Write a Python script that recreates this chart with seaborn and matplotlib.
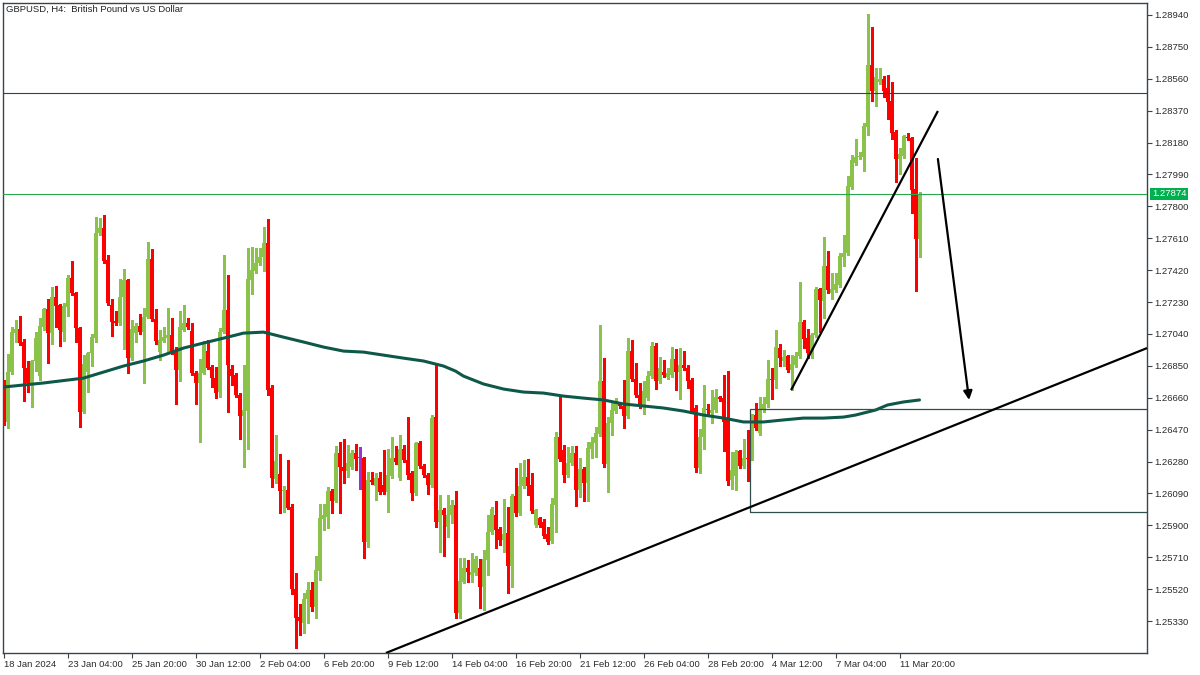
import numpy as np
import pandas as pd
import seaborn as sns
import matplotlib
matplotlib.use("Agg")
import matplotlib.pyplot as plt
from matplotlib.patches import Rectangle
from matplotlib.transforms import blended_transform_factory

# GBPUSD H4 candles (bar 0 = 18 Jan 2024 12:00)
opens = [1.26748, 1.26516, 1.26813, 1.27045, 1.27069, 1.26992, 1.26837, 1.26748, 1.26879, 1.26789,
         1.27081, 1.27188, 1.27045, 1.27260, 1.27212, 1.27051, 1.27200, 1.27373, 1.27284, 1.27075,
         1.26575, 1.26813, 1.26926, 1.27015, 1.27641, 1.27671, 1.27480, 1.27212, 1.27117, 1.27105,
         1.27260, 1.27361, 1.26896, 1.27045, 1.27087, 1.27051, 1.27141, 1.27486, 1.27129, 1.26932,
         1.26998, 1.27015, 1.27033, 1.26932, 1.26825, 1.27063, 1.27105, 1.27057, 1.26807, 1.26748,
         1.26807, 1.26938, 1.26843, 1.26777, 1.26694, 1.27051, 1.27183, 1.26831, 1.26795, 1.26676,
         1.26551, 1.26581, 1.27361, 1.27415, 1.27462, 1.27498, 1.27582, 1.26718, 1.26176, 1.26206,
         1.26105, 1.26111, 1.26009, 1.25521, 1.25354, 1.25318, 1.25461, 1.25515, 1.25413, 1.25628,
         1.25937, 1.25949, 1.26105, 1.26045, 1.26331, 1.26247, 1.26224, 1.26247, 1.26331, 1.26301,
         1.26301, 1.25801, 1.26170, 1.26134, 1.26182, 1.26140, 1.26099, 1.26194, 1.26301, 1.26182,
         1.26354, 1.26289, 1.26212, 1.26093, 1.26390, 1.26253, 1.26200, 1.26140, 1.26545, 1.25920,
         1.25991, 1.25890, 1.25961, 1.26021, 1.25378, 1.25563, 1.25646, 1.25604, 1.25616, 1.25646,
         1.25533, 1.25694, 1.25860, 1.25961, 1.25878, 1.25813, 1.25854, 1.25658, 1.26075, 1.25973,
         1.26134, 1.26188, 1.26140, 1.25902, 1.25943, 1.25920, 1.25848, 1.25807, 1.26021, 1.26426,
         1.26349, 1.26200, 1.26271, 1.26331, 1.26111, 1.26235, 1.26152, 1.26354, 1.26390, 1.26444,
         1.26760, 1.26265, 1.26510, 1.26581, 1.26623, 1.26611, 1.26551, 1.26938, 1.26771, 1.26676,
         1.26611, 1.26658, 1.26789, 1.26968, 1.26760, 1.26813, 1.26783, 1.26795, 1.26890, 1.26813,
         1.26855, 1.26837, 1.26766, 1.26599, 1.26241, 1.26426, 1.26593, 1.26569, 1.26587, 1.26664,
         1.26658, 1.26539, 1.26170, 1.26194, 1.26343, 1.26253, 1.26301, 1.26301, 1.26557, 1.26450,
         1.26587, 1.26623, 1.26771, 1.26766, 1.26956, 1.26879, 1.26908, 1.26825, 1.26855, 1.26908,
         1.27111, 1.27015, 1.26926, 1.27033, 1.27308, 1.27236, 1.27444, 1.27284, 1.27302, 1.27331,
         1.27498, 1.27522, 1.27915, 1.28058, 1.28094, 1.28094, 1.28272, 1.28642, 1.28487, 1.28541,
         1.28559, 1.28505, 1.28427, 1.28243, 1.28082, 1.28100, 1.28213, 1.28207, 1.27903, 1.27606]

highs = [1.26766, 1.26920, 1.27081, 1.27123, 1.27147, 1.27009, 1.26879, 1.26885, 1.27051, 1.27135,
         1.27194, 1.27248, 1.27319, 1.27325, 1.27218, 1.27224, 1.27391, 1.27474, 1.27290, 1.27081,
         1.26914, 1.26932, 1.27039, 1.27736, 1.27730, 1.27748, 1.27510, 1.27248, 1.27177, 1.27367,
         1.27426, 1.27367, 1.27123, 1.27105, 1.27159, 1.27194, 1.27588, 1.27546, 1.27188, 1.27063,
         1.27081, 1.27194, 1.27135, 1.26962, 1.27177, 1.27212, 1.27135, 1.27105, 1.26819, 1.26890,
         1.26998, 1.27004, 1.26855, 1.26843, 1.27075, 1.27510, 1.27391, 1.26855, 1.26807, 1.26688,
         1.26855, 1.27552, 1.27558, 1.27552, 1.27552, 1.27677, 1.27724, 1.26736, 1.26438, 1.26325,
         1.26134, 1.26289, 1.26027, 1.25616, 1.25431, 1.25497, 1.25563, 1.25563, 1.25717, 1.26027,
         1.26027, 1.26128, 1.26116, 1.26372, 1.26396, 1.26414, 1.26378, 1.26349, 1.26384, 1.26366,
         1.26307, 1.26218, 1.26218, 1.26212, 1.26218, 1.26349, 1.26354, 1.26426, 1.26372, 1.26438,
         1.26378, 1.26545, 1.26224, 1.26396, 1.26402, 1.26265, 1.26212, 1.26557, 1.26855, 1.26081,
         1.26003, 1.26081, 1.26051, 1.26105, 1.25705, 1.25705, 1.25694, 1.25735, 1.25717, 1.25700,
         1.25753, 1.25961, 1.26009, 1.26045, 1.25890, 1.26057, 1.26009, 1.26087, 1.26241, 1.26271,
         1.26289, 1.26295, 1.26212, 1.25997, 1.25949, 1.25937, 1.25890, 1.26063, 1.26456, 1.26664,
         1.26378, 1.26366, 1.26372, 1.26372, 1.26301, 1.26247, 1.26396, 1.26426, 1.26486, 1.27093,
         1.26896, 1.26545, 1.26629, 1.26658, 1.26635, 1.26766, 1.27015, 1.27004, 1.26867, 1.26748,
         1.26760, 1.26819, 1.26992, 1.26986, 1.26903, 1.26885, 1.26837, 1.26962, 1.26950, 1.26956,
         1.26938, 1.26855, 1.26777, 1.26617, 1.26474, 1.26736, 1.26623, 1.26706, 1.26712, 1.26670,
         1.26795, 1.26819, 1.26337, 1.26349, 1.26349, 1.26414, 1.26468, 1.26563, 1.26629, 1.26664,
         1.26664, 1.26885, 1.26837, 1.27063, 1.26980, 1.26944, 1.26914, 1.26914, 1.26932, 1.27349,
         1.27123, 1.27069, 1.27045, 1.27319, 1.27314, 1.27617, 1.27534, 1.27403, 1.27403, 1.27522,
         1.27629, 1.27981, 1.28106, 1.28201, 1.28124, 1.28296, 1.28945, 1.28868, 1.28624, 1.28624,
         1.28576, 1.28582, 1.28541, 1.28255, 1.28148, 1.28225, 1.28237, 1.28213, 1.28088, 1.27885]

lows = [1.26498, 1.26480, 1.26801, 1.26992, 1.26974, 1.26641, 1.26694, 1.26605, 1.26819, 1.26766,
        1.27063, 1.26867, 1.26980, 1.27081, 1.26968, 1.26998, 1.27147, 1.27272, 1.26992, 1.26486,
        1.26569, 1.26694, 1.26849, 1.26992, 1.27629, 1.27462, 1.27212, 1.27027, 1.27093, 1.27093,
        1.26950, 1.26807, 1.26885, 1.26992, 1.27039, 1.26748, 1.27135, 1.27117, 1.26980, 1.26885,
        1.26992, 1.26926, 1.26920, 1.26623, 1.26760, 1.27057, 1.27069, 1.26795, 1.26623, 1.26396,
        1.26801, 1.26831, 1.26724, 1.26658, 1.26664, 1.27045, 1.26575, 1.26736, 1.26664, 1.26414,
        1.26247, 1.26354, 1.27278, 1.27403, 1.27450, 1.27415, 1.26676, 1.26128, 1.26152, 1.25973,
        1.25979, 1.25997, 1.25491, 1.25169, 1.25247, 1.25259, 1.25318, 1.25390, 1.25348, 1.25575,
        1.25872, 1.25884, 1.25973, 1.26039, 1.25973, 1.26152, 1.26188, 1.26235, 1.26230, 1.26116,
        1.25705, 1.25771, 1.26146, 1.26051, 1.26087, 1.26087, 1.25979, 1.26182, 1.26265, 1.26170,
        1.26277, 1.26176, 1.26051, 1.26081, 1.26241, 1.26188, 1.26087, 1.26128, 1.25890, 1.25741,
        1.25717, 1.25830, 1.25914, 1.25348, 1.25348, 1.25557, 1.25563, 1.25563, 1.25604, 1.25408,
        1.25396, 1.25604, 1.25848, 1.25765, 1.25783, 1.25741, 1.25497, 1.25533, 1.25955, 1.25961,
        1.26122, 1.26081, 1.25973, 1.25890, 1.25890, 1.25825, 1.25789, 1.25795, 1.25860, 1.26283,
        1.26158, 1.26188, 1.26259, 1.26015, 1.26069, 1.26045, 1.26045, 1.26301, 1.26307, 1.26432,
        1.26247, 1.26099, 1.26438, 1.26569, 1.26599, 1.26480, 1.26539, 1.26760, 1.26664, 1.26599,
        1.26563, 1.26647, 1.26777, 1.26712, 1.26748, 1.26783, 1.26771, 1.26783, 1.26706, 1.26652,
        1.26825, 1.26718, 1.26569, 1.26218, 1.26212, 1.26354, 1.26557, 1.26510, 1.26575, 1.26641,
        1.26343, 1.26140, 1.26116, 1.26111, 1.26241, 1.26241, 1.26164, 1.26289, 1.26468, 1.26438,
        1.26575, 1.26605, 1.26652, 1.26718, 1.26849, 1.26849, 1.26813, 1.26706, 1.26843, 1.26896,
        1.26956, 1.26896, 1.26896, 1.27021, 1.27051, 1.27135, 1.27284, 1.27248, 1.27290, 1.27319,
        1.27444, 1.27510, 1.27903, 1.28046, 1.28082, 1.28011, 1.28225, 1.28427, 1.28397, 1.28529,
        1.28451, 1.28320, 1.28201, 1.27945, 1.27993, 1.28088, 1.28195, 1.27760, 1.27296, 1.27498]

closes = [1.26516, 1.26813, 1.27051, 1.27069, 1.26986, 1.26837, 1.26748, 1.26879, 1.27015, 1.27087,
          1.27188, 1.27045, 1.27260, 1.27206, 1.27063, 1.27206, 1.27373, 1.27284, 1.27075, 1.26575,
          1.26861, 1.26926, 1.27021, 1.27641, 1.27671, 1.27474, 1.27224, 1.27111, 1.27105, 1.27260,
          1.27361, 1.26896, 1.27069, 1.27087, 1.27051, 1.27141, 1.27486, 1.27129, 1.26998, 1.27004,
          1.27021, 1.27033, 1.26932, 1.26825, 1.27081, 1.27105, 1.27081, 1.26807, 1.26748, 1.26807,
          1.26980, 1.26837, 1.26777, 1.26688, 1.27051, 1.27183, 1.26855, 1.26789, 1.26676, 1.26551,
          1.26587, 1.27367, 1.27421, 1.27462, 1.27498, 1.27582, 1.26706, 1.26182, 1.26283, 1.26105,
          1.26111, 1.26003, 1.25521, 1.25348, 1.25330, 1.25461, 1.25515, 1.25413, 1.25634, 1.25943,
          1.25961, 1.26105, 1.26045, 1.26331, 1.26247, 1.26224, 1.26271, 1.26331, 1.26295, 1.26301,
          1.25801, 1.26170, 1.26158, 1.26182, 1.26099, 1.26099, 1.26200, 1.26301, 1.26277, 1.26354,
          1.26289, 1.26200, 1.26093, 1.26390, 1.26253, 1.26200, 1.26140, 1.26539, 1.25920, 1.25991,
          1.25961, 1.25961, 1.26021, 1.25378, 1.25569, 1.25646, 1.25622, 1.25622, 1.25700, 1.25533,
          1.25700, 1.25860, 1.25997, 1.25872, 1.25813, 1.25848, 1.25658, 1.26075, 1.25973, 1.26134,
          1.26188, 1.26134, 1.25985, 1.25991, 1.25902, 1.25836, 1.25801, 1.26027, 1.26426, 1.26295,
          1.26200, 1.26271, 1.26331, 1.26111, 1.26235, 1.26152, 1.26360, 1.26396, 1.26450, 1.26760,
          1.26265, 1.26510, 1.26587, 1.26629, 1.26611, 1.26551, 1.26938, 1.26771, 1.26676, 1.26611,
          1.26700, 1.26789, 1.26968, 1.26760, 1.26837, 1.26795, 1.26807, 1.26890, 1.26813, 1.26855,
          1.26837, 1.26760, 1.26575, 1.26241, 1.26426, 1.26599, 1.26587, 1.26587, 1.26664, 1.26652,
          1.26516, 1.26164, 1.26230, 1.26337, 1.26253, 1.26301, 1.26295, 1.26557, 1.26480, 1.26587,
          1.26623, 1.26771, 1.26766, 1.26962, 1.26896, 1.26903, 1.26825, 1.26861, 1.26908, 1.27111,
          1.27009, 1.26926, 1.27033, 1.27307, 1.27242, 1.27444, 1.27302, 1.27308, 1.27337, 1.27504,
          1.27522, 1.27921, 1.28076, 1.28094, 1.28100, 1.28278, 1.28642, 1.28487, 1.28570, 1.28558,
          1.28487, 1.28421, 1.28237, 1.28082, 1.28112, 1.28219, 1.28207, 1.27897, 1.27606, 1.27874]

# moving average read at a few bars
ma_bars = [0, 10, 20, 25, 30, 35, 40, 45, 50, 55, 60, 65, 70, 75, 80, 85, 90, 95, 100, 105,
           110, 113, 115, 120, 125, 130, 135, 140, 145, 150, 155, 160, 165, 170, 175, 180, 185,
           190, 195, 200, 205, 210, 213, 218, 221, 225, 229]
ma_values = [1.26724, 1.26748, 1.26777, 1.26813, 1.26849, 1.26879, 1.26914, 1.26956, 1.26986,
             1.27015, 1.27045, 1.27051, 1.27021, 1.26992, 1.26962, 1.26938, 1.26932, 1.26914,
             1.26896, 1.26879, 1.26849, 1.26819, 1.26789, 1.26742, 1.26712, 1.26694, 1.26688,
             1.26670, 1.26658, 1.26647, 1.26623, 1.26611, 1.26599, 1.26581, 1.26557, 1.26539,
             1.26516, 1.26516, 1.26528, 1.26539, 1.26539, 1.26545, 1.26557, 1.26587, 1.26617,
             1.26635, 1.26647]

# drawn objects (bar, price)
resistance_level = 1.28475
bid_price = 1.27874
zone_top, zone_bottom, zone_start = 1.26593, 1.25979, 186.6
trend_long = [(95.6, 1.25140), (285.9, 1.26956)]
trend_short = [(196.9, 1.26706), (233.6, 1.28368)]
arrow_from, arrow_to = (233.6, 1.28082), (241.4, 1.26647)

x_tick_bars = [0, 16, 32, 48, 64, 80, 96, 112, 128, 144, 160, 176, 192, 208, 224]
x_tick_labels = ["18 Jan 2024", "23 Jan 04:00", "25 Jan 20:00", "30 Jan 12:00", "2 Feb 04:00",
                 "6 Feb 20:00", "9 Feb 12:00", "14 Feb 04:00", "16 Feb 20:00", "21 Feb 12:00",
                 "26 Feb 04:00", "28 Feb 20:00", "4 Mar 12:00", "7 Mar 04:00", "11 Mar 20:00"]
y_ticks = [1.25330, 1.25520, 1.25710, 1.25900, 1.26090, 1.26280, 1.26470, 1.26660, 1.26850, 1.27040,
           1.27230, 1.27420, 1.27610, 1.27800, 1.27990, 1.28180, 1.28370, 1.28560, 1.28750, 1.28940]

sns.set_theme(style="white")
plt.rcParams["font.family"] = ["Liberation Sans", "DejaVu Sans"]

df = pd.DataFrame({"open": opens, "high": highs, "low": lows, "close": closes})
df["bar"] = np.arange(len(df))

up_col, down_col, doji_col = "#8bc34a", "#ff0000", "#9b30d9"
colors = np.where(df.close > df.open, up_col, np.where(df.close < df.open, down_col, doji_col))

fig = plt.figure(figsize=(12, 6.75), dpi=100)
ax = fig.add_axes([3 / 1200, 22 / 675, 1144 / 1200, 650 / 675])

# candles (drawn crisp, like the terminal)
ax.vlines(df.bar, df.low, df.high, colors=colors, lw=0.8, zorder=3, antialiased=False)
body = (df.close - df.open).abs().clip(lower=0.00006)
ax.bar(df.bar, body, bottom=df[["open", "close"]].min(axis=1), width=0.7,
       color=colors, lw=0, zorder=4, antialiased=False)

# moving average
sns.lineplot(x=ma_bars, y=ma_values, ax=ax, color="#0e5849", lw=2.2, zorder=5)

# levels and zone sit on top of the candles
ax.axhline(resistance_level, color="#34424a", lw=0.8, zorder=6)
ax.axhline(bid_price, color="#2aa84f", lw=0.8, zorder=6)
ax.add_patch(Rectangle((zone_start, zone_bottom), 200, zone_top - zone_bottom,
                       fill=False, ec="#2f4f4f", lw=0.9, zorder=6))

# trend lines and arrow
for (x0, y0), (x1, y1) in [trend_long, trend_short]:
    ax.plot([x0, x1], [y0, y1], color="black", lw=1.6, zorder=7, solid_capstyle="butt")
ax.annotate("", xy=arrow_to, xytext=arrow_from,
            arrowprops=dict(arrowstyle="-|>", color="black", lw=1.6, mutation_scale=13,
                            shrinkA=0, shrinkB=0), zorder=7)

ax.set_xlim(-0.125, 285.875)
ax.set_ylim(1.25140, 1.29011)
ax.set_xlabel("")
ax.set_ylabel("")

for s in ax.spines.values():
    s.set_color("#3b434b")
    s.set_linewidth(1.0)

ax.yaxis.tick_right()
ax.set_yticks(y_ticks)
ax.set_yticklabels([f"{v:.5f}" for v in y_ticks])
ax.tick_params(axis="y", right=True, direction="out", length=3.5, width=0.8, color="#3b434b",
               pad=1.5, labelsize=6.8, labelcolor="#2b2b2b")
ax.set_xticks(x_tick_bars)
ax.set_xticklabels(x_tick_labels, ha="left")
ax.tick_params(axis="x", bottom=True, direction="out", length=3.8, width=0.8, color="#3b434b",
               pad=1.5, labelsize=6.8, labelcolor="#2b2b2b")

# current price tag
trans = blended_transform_factory(ax.transAxes, ax.transData)
ax.text(1.0044, bid_price, f"{bid_price:.5f}", transform=trans, ha="left", va="center",
        fontsize=6.8, color="white", clip_on=False,
        bbox=dict(boxstyle="square,pad=0.2", fc="#00b04f", ec="none"))

fig.text(6 / 1200, 1 - 9 / 675, "GBPUSD, H4:  British Pound vs US Dollar",
         fontsize=6.8, va="center", ha="left", color="#222222")

fig.savefig("out.png", dpi=100)
